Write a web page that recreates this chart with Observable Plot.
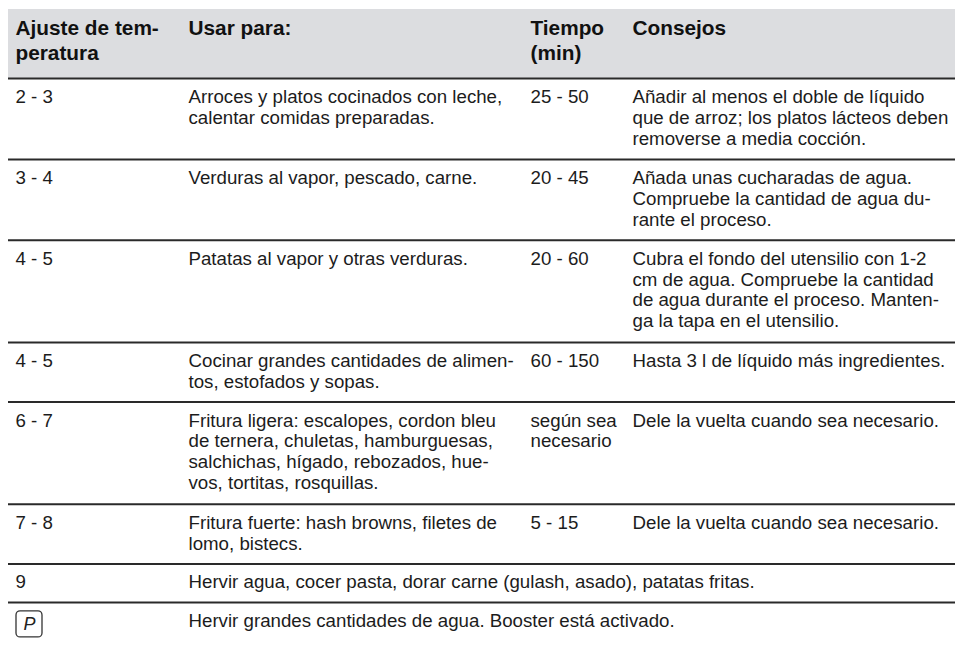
<!DOCTYPE html>
<html>
<head>
<meta charset="utf-8">
<script src="https://cdn.jsdelivr.net/npm/d3@7"></script>
<script src="https://cdn.jsdelivr.net/npm/@observablehq/plot@0.6"></script>
<style>
  html, body { margin: 0; padding: 0; background: #fff; }
  #chart svg { display: block; }
</style>
</head>
<body>
<div id="chart"></div>
<script>
// ---- Data ----
const headers = ["Ajuste de tem-\nperatura", "Usar para:", "Tiempo\n(min)", "Consejos"];

const settings = ["2 - 3", "3 - 4", "4 - 5", "4 - 5", "6 - 7", "7 - 8", "9", "P"];

const usage = [
  "Arroces y platos cocinados con leche,\ncalentar comidas preparadas.",
  "Verduras al vapor, pescado, carne.",
  "Patatas al vapor y otras verduras.",
  "Cocinar grandes cantidades de alimen-\ntos, estofados y sopas.",
  "Fritura ligera: escalopes, cordon bleu\nde ternera, chuletas, hamburguesas,\nsalchichas, hígado, rebozados, hue-\nvos, tortitas, rosquillas.",
  "Fritura fuerte: hash browns, filetes de\nlomo, bistecs.",
  "Hervir agua, cocer pasta, dorar carne (gulash, asado), patatas fritas.",
  "Hervir grandes cantidades de agua. Booster está activado."
];

const times = ["25 - 50", "20 - 45", "20 - 60", "60 - 150", "según sea\nnecesario", "5 - 15", "", ""];

const tips = [
  "Añadir al menos el doble de líquido\nque de arroz; los platos lácteos deben\nremoverse a media cocción.",
  "Añada unas cucharadas de agua.\nCompruebe la cantidad de agua du-\nrante el proceso.",
  "Cubra el fondo del utensilio con 1-2\ncm de agua. Compruebe la cantidad\nde agua durante el proceso. Manten-\nga la tapa en el utensilio.",
  "Hasta 3 l de líquido más ingredientes.",
  "Dele la vuelta cuando sea necesario.",
  "Dele la vuelta cuando sea necesario.",
  "",
  ""
];

// rows whose setting is shown as a key symbol (boxed glyph)
const iconSettings = ["P"];

// ---- Layout (styles) ----
const W = 955, H = 647;
const tableLeft = 8, tableRight = 955;
const colX = [15, 188, 530, 632];
const bandTop = 9, bandBottom = 78;
const headSize = 20.8, headLH = 25.5, headBaseline = 34;
const bodySize = 18.7, bodyLH = 20.8;
const rowBase = 38.5, rowPerLine = 21.2;
const firstBaselineOffset = 24.5;
const font = "'Liberation Sans', Arial, Helvetica, sans-serif";

// ---- Derived table ----
const splitL = s => (s ? s.split("\n") : []);
const rows = settings.map((s, i) => ({
  setting: s,
  usage: usage[i],
  time: times[i],
  tip: tips[i],
  lines: Math.max(splitL(s).length, splitL(usage[i]).length, splitL(times[i]).length, splitL(tips[i]).length)
}));
let rowY = bandBottom;
rows.forEach(r => { r.top = rowY; r.height = rowBase + (r.lines - 1) * rowPerLine; rowY += r.height; });

const bodyLines = [];
rows.forEach(r => {
  [r.setting, r.usage, r.time, r.tip].forEach((t, c) => {
    if (!t) return;
    if (c === 0 && iconSettings.includes(t)) return;
    splitL(t).forEach((line, k) => {
      bodyLines.push({x: colX[c], y: r.top + firstBaselineOffset + k * bodyLH, text: line});
    });
  });
});
const headLines = [];
headers.forEach((h, c) => splitL(h).forEach((line, k) => {
  headLines.push({x: colX[c], y: headBaseline + k * headLH, text: line});
}));
const iconCells = rows.filter(r => iconSettings.includes(r.setting)).map(r => ({
  x1: colX[0] + 1, x2: colX[0] + 27, y1: r.top + 9, y2: r.top + 35, text: r.setting
}));
const ruleYs = rows.map(r => r.top);

const chart = Plot.plot({
  width: W,
  height: H,
  margin: 0,
  x: {type: "identity"},
  y: {type: "identity"},
  style: {fontFamily: font, background: "#fff"},
  marks: [
    Plot.rect([0], {x1: tableLeft, x2: tableRight, y1: bandTop, y2: bandBottom, fill: "#dcdde0"}),
    Plot.ruleY(ruleYs, {y: d => d, x1: tableLeft, x2: tableRight, stroke: "#2a2a2a", strokeWidth: 2}),
    Plot.text(headLines, {
      x: "x", y: "y", text: "text",
      textAnchor: "start", lineAnchor: "bottom",
      fontSize: headSize, fontWeight: "bold",
      fill: "#111"
    }),
    Plot.text(bodyLines, {
      x: "x", y: "y", text: "text",
      textAnchor: "start", lineAnchor: "bottom",
      fontSize: bodySize,
      fill: "#1c1c1c"
    }),
    Plot.rect(iconCells, {x1: "x1", x2: "x2", y1: "y1", y2: "y2", rx: 4, fill: "none", stroke: "#333", strokeWidth: 1.3}),
    Plot.text(iconCells, {
      x: d => (d.x1 + d.x2) / 2, y: d => (d.y1 + d.y2) / 2, text: "text",
      fontSize: 18, fontStyle: "italic", fontWeight: 300, fill: "#222"
    })
  ]
});
document.getElementById("chart").appendChild(chart);
</script>
</body>
</html>
